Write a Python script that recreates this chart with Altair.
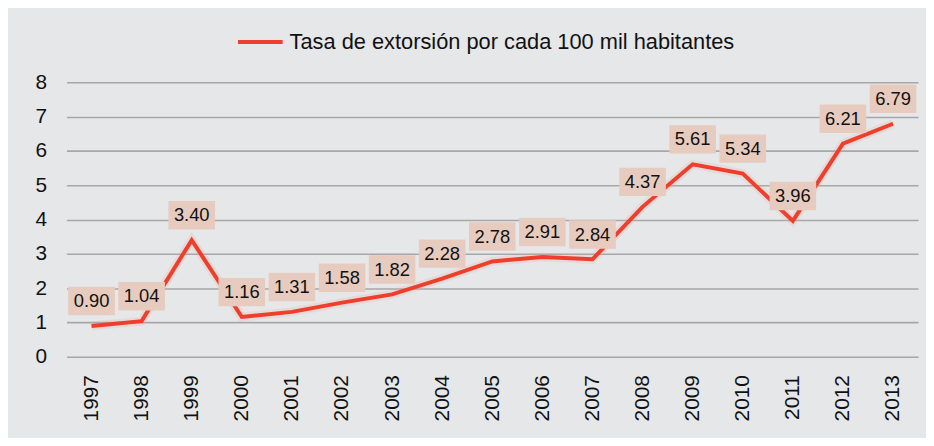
import altair as alt
import pandas as pd

years = ["1997", "1998", "1999", "2000", "2001", "2002", "2003", "2004", "2005",
         "2006", "2007", "2008", "2009", "2010", "2011", "2012", "2013"]
values = [0.90, 1.04, 3.40, 1.16, 1.31, 1.58, 1.82, 2.28, 2.78,
          2.91, 2.84, 4.37, 5.61, 5.34, 3.96, 6.21, 6.79]
series_name = "Tasa de extorsión por cada 100 mil habitantes"

df = pd.DataFrame({"year": years, "value": values, "serie": series_name})
df["label"] = df["value"].map(lambda v: f"{v:.2f}")

FONT = "Liberation Sans"
RED = "#ef3e2c"

x = alt.X("year:O", title=None, sort=None,
          axis=alt.Axis(labelAngle=-90, labelFontSize=21, labelFont=FONT,
                        labelColor="#111111", labelPadding=18, ticks=False,
                        domain=False, labelAlign="right", labelBaseline="middle"))
y = alt.Y("value:Q", title=None,
          scale=alt.Scale(domain=[0, 8], nice=False),
          axis=alt.Axis(values=[0, 1, 2, 3, 4, 5, 6, 7, 8], labelFontSize=21,
                        labelFont=FONT, labelColor="#111111", labelPadding=20,
                        ticks=False, domain=False, grid=True,
                        gridColor="#a7a7a9", gridWidth=1.6))

base = alt.Chart(df)

glow = base.mark_line(strokeWidth=9, opacity=0.18, color="#e8a090").encode(x=x, y=y)

line = base.mark_line(strokeWidth=4).encode(
    x=x, y=y,
    color=alt.Color("serie:N", scale=alt.Scale(range=[RED]),
                    legend=alt.Legend(title=None, orient="none", legendX=171,
                                      legendY=-65, symbolType="stroke",
                                      symbolSize=2025, symbolStrokeWidth=4,
                                      labelFontSize=22, labelFont=FONT,
                                      labelColor="#111111", padding=0,
                                      labelOffset=5, labelLimit=600)))

box_path = "M-1,-1.68L1,-1.68L1,-0.46L-1,-0.46Z"
boxes = base.mark_point(shape=box_path, filled=True, opacity=1,
                        color="#e7cbbe", size=2209, strokeWidth=0).encode(x=x, y=y)

labels = base.mark_text(dy=-25, fontSize=18.5, font=FONT, color="#111111").encode(
    x=x, y=y, text="label:N")

chart = alt.layer(glow, line, boxes, labels).properties(
    width=859, height=277,
    autosize=alt.AutoSizeParams(type="none"),
    padding={"left": 59, "top": 73, "right": 8, "bottom": 80},
    background="#e6e7e9",
).configure_view(stroke=None).configure_axisY(gridColor="#a7a7a9")

chart.save("out.html", embed_options={"renderer": "svg", "actions": False})
